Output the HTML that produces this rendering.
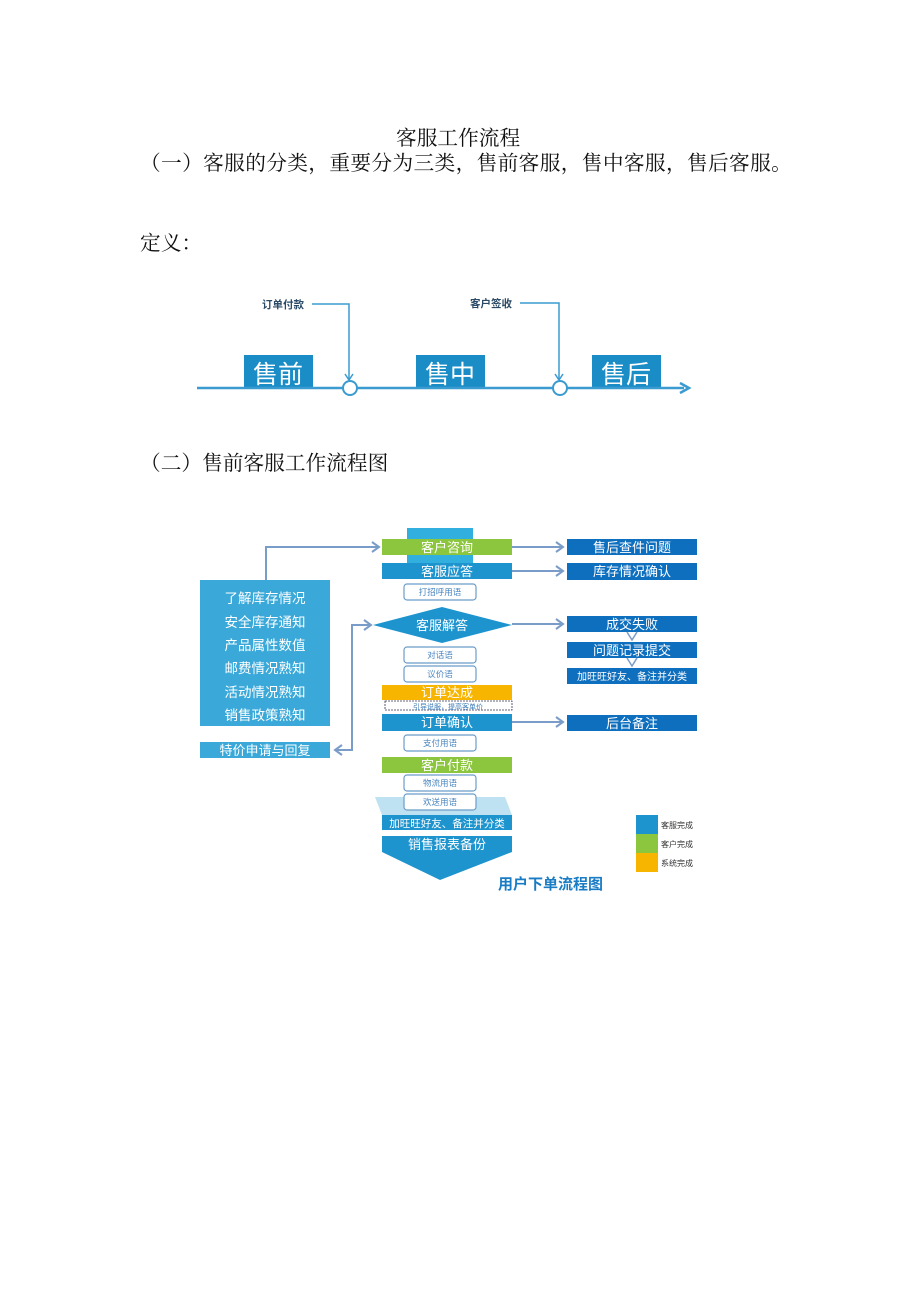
<!DOCTYPE html>
<html><head><meta charset="utf-8"><style>
body{margin:0;background:#fff;}
.pg{position:relative;width:920px;height:1302px;overflow:hidden;font-family:"Liberation Serif","Noto Serif CJK SC",serif;}
.t{position:absolute;white-space:nowrap;font-size:20.7px;color:#111;line-height:1;}
</style></head><body><div class="pg">
<div class="t" style="left:396px;top:129px;">客服工作流程</div>
<div class="t" style="left:140px;top:154px;letter-spacing:0.35px;">（一）客服的分类，重要分为三类，售前客服，售中客服，售后客服。</div>
<div class="t" style="left:140px;top:234px;">定义：</div>
<div class="t" style="left:140px;top:454px;">（二）售前客服工作流程图</div>

<svg style="position:absolute;left:0;top:0" width="920" height="1302" font-family="Liberation Sans, Noto Sans CJK SC, sans-serif">
<g fill="#1a8cc6">
<rect x="244" y="355" width="69" height="33"/><rect x="416" y="355" width="69" height="33"/><rect x="592" y="355" width="69" height="33"/>
</g>
<g fill="#fff" font-size="25" text-anchor="middle"><text x="278" y="383">售前</text><text x="450" y="383">售中</text><text x="626" y="383">售后</text></g>
<line x1="197" y1="388" x2="684" y2="388" stroke="#3a9bd0" stroke-width="2.5"/>
<path d="M680 383 L689 388 L680 393" fill="none" stroke="#3a9bd0" stroke-width="2.5"/>
<g fill="#fff" stroke="#3a9bd0" stroke-width="2"><circle cx="350" cy="388" r="7"/><circle cx="560" cy="388" r="7"/></g>
<g fill="none" stroke="#3a9bd0" stroke-width="1.5">
<path d="M312 304 H349 V379"/><path d="M345 374 L349 380 L353 374"/>
<path d="M520 303 H559 V379"/><path d="M555 374 L559 380 L563 374"/>
</g>
<g fill="#2a4a66" font-size="10.5" font-weight="bold"><text x="262" y="308">订单付款</text><text x="470" y="307">客户签收</text></g>

<polygon points="375,797 505,797 512,815 382,815" fill="#bfe2f3"/>
<rect x="407" y="528" width="66" height="40" fill="#31b0e0"/>
<g fill="none" stroke="#7a9cc8" stroke-width="2">
<path d="M266 580 V547 H378"/><path d="M372 542 L379 547 L372 552"/>
<path d="M512 547 H562"/><path d="M556 542 L563 547 L556 552"/>
<path d="M512 571 H562"/><path d="M556 566 L563 571 L556 576"/>
<path d="M512 624 H562"/><path d="M556 619 L563 624 L556 629"/>
<path d="M512 722 H562"/><path d="M556 717 L563 722 L556 727"/>
<path d="M370 625 H352 V750 H336"/><path d="M364 620 L371 625 L364 630"/><path d="M342 745 L335 750 L342 755"/>
</g>
<rect x="200" y="580" width="130" height="146" fill="#3aa8d8"/>
<rect x="200" y="742" width="130" height="16" fill="#3aa8d8"/>
<rect x="382" y="539" width="130" height="16" fill="#8cc63f"/>
<rect x="382" y="563" width="130" height="16" fill="#1e94cf"/>
<polygon points="373,625 442,607 512,625 442,643" fill="#1e94cf"/>
<rect x="382" y="685" width="130" height="15" fill="#f7b500"/>
<rect x="385" y="701" width="127" height="9" fill="#fff" stroke="#335" stroke-width="0.8" stroke-dasharray="2,1"/>
<rect x="382" y="714" width="130" height="17" fill="#1e94cf"/>
<rect x="382" y="757" width="130" height="16" fill="#8cc63f"/>
<rect x="382" y="815" width="130" height="15" fill="#1e94cf"/>
<rect x="382" y="836" width="130" height="16" fill="#1e94cf"/>
<polygon points="382,852 512,852 440,880" fill="#1e94cf"/>
<g fill="#0f6fbf">
<rect x="567" y="539" width="130" height="16"/><rect x="567" y="563" width="130" height="17"/>
<rect x="567" y="616" width="130" height="16"/><rect x="567" y="642" width="130" height="16"/>
<rect x="567" y="668" width="130" height="16"/><rect x="567" y="715" width="130" height="16"/>
</g>
<g fill="none" stroke="#7a9cc8" stroke-width="1.5"><path d="M627 632 L632 640 L637 632"/><path d="M627 658 L632 666 L637 658"/></g>
<g fill="#fff" stroke="#6a9cc8" stroke-width="1.2">
<rect x="404" y="584" width="72" height="16" rx="3"/><rect x="404" y="647" width="72" height="16" rx="3"/>
<rect x="404" y="666" width="72" height="16" rx="3"/><rect x="404" y="735" width="72" height="16" rx="3"/>
<rect x="404" y="775" width="72" height="16" rx="3"/><rect x="404" y="794" width="72" height="16" rx="3"/>
</g>
<g fill="#4a86c0" font-size="8.5" text-anchor="middle">
<text x="440" y="595">打招呼用语</text><text x="440" y="658">对话语</text><text x="440" y="677">议价语</text>
<text x="440" y="746">支付用语</text><text x="440" y="786">物流用语</text><text x="440" y="805">欢送用语</text>
<text x="448" y="709" font-size="7" fill="#3a7ab8">引导说服，提高客单价</text>
</g>
<g fill="#fff" font-size="13" text-anchor="middle">
<text x="447" y="552">客户咨询</text><text x="447" y="576">客服应答</text><text x="442" y="630">客服解答</text>
<text x="447" y="697">订单达成</text><text x="447" y="727">订单确认</text><text x="447" y="770">客户付款</text>
<text x="447" y="827" font-size="10.5">加旺旺好友、备注并分类</text><text x="447" y="849">销售报表备份</text>
<text x="632" y="552">售后查件问题</text><text x="632" y="576">库存情况确认</text><text x="632" y="629">成交失败</text>
<text x="632" y="655">问题记录提交</text><text x="632" y="680" font-size="10">加旺旺好友、备注并分类</text><text x="632" y="728">后台备注</text>
<text x="265" y="755">特价申请与回复</text>
</g>
<g fill="#fff" font-size="13.5" text-anchor="middle">
<text x="265" y="603">了解库存情况</text><text x="265" y="627">安全库存通知</text><text x="265" y="650">产品属性数值</text>
<text x="265" y="673">邮费情况熟知</text><text x="265" y="697">活动情况熟知</text><text x="265" y="720">销售政策熟知</text>
</g>
<rect x="636" y="815" width="22" height="19" fill="#1e94cf"/><rect x="636" y="834" width="22" height="19" fill="#8cc63f"/><rect x="636" y="853" width="22" height="19" fill="#f7b500"/>
<g fill="#333" font-size="8"><text x="661" y="828">客服完成</text><text x="661" y="847">客户完成</text><text x="661" y="866">系统完成</text></g>
<text x="498" y="889" fill="#1a7cc4" font-size="15" font-weight="bold">用户下单流程图</text>
</svg>
</div></body></html>
